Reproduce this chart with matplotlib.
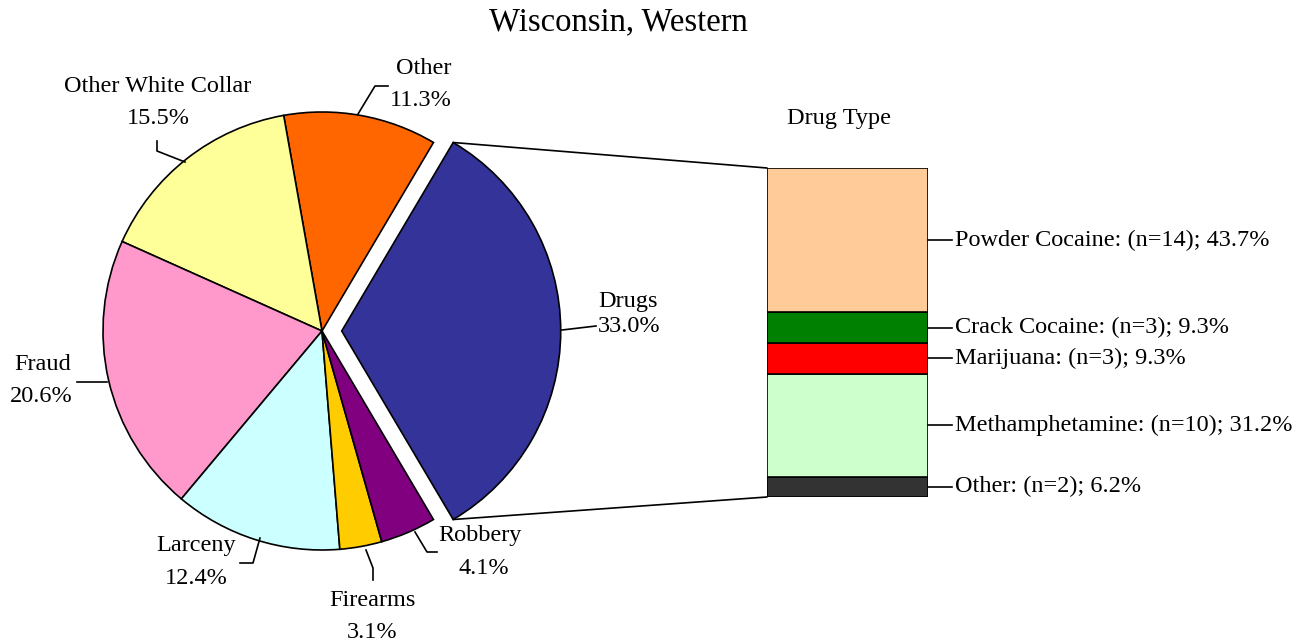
import numpy as np
import matplotlib
matplotlib.use("Agg")
import matplotlib.pyplot as plt
from matplotlib.patches import ConnectionPatch

plt.rcParams['font.family'] = ['Liberation Serif', 'DejaVu Serif']

W, H = 1313, 643

# pie data (counter-clockwise from the exploded slice)
offense = ['Drugs', 'Other', 'Other White Collar', 'Fraud', 'Larceny', 'Firearms', 'Robbery']
offense_pct = [33.0, 11.3, 15.5, 20.6, 12.4, 3.1, 4.1]
offense_colors = ['#333399', '#FF6600', '#FFFF99', '#FF99CC', '#CCFFFF', '#FFCC00', '#800080']

# drug breakdown (bottom to top)
drug_types = ['Other', 'Methamphetamine', 'Marijuana', 'Crack Cocaine', 'Powder Cocaine']
drug_n = [2, 10, 3, 3, 14]
drug_pct = [6.2, 31.2, 9.3, 9.3, 43.7]
drug_colors = ['#333333', '#CCFFCC', '#FF0000', '#008000', '#FFCC99']

FS = 17.5
LW = 1.2

fig = plt.figure(figsize=(W / 100, H / 100), dpi=100)

# pie centre / radius in pixels
cx, cy, r = 322, 331, 219
ax = fig.add_axes([(cx - 1.1 * r) / W, (H - cy - 1.1 * r) / H, 2.2 * r / W, 2.2 * r / H])
start = -offense_pct[0] / 100 * 360 / 2
wedges, _ = ax.pie(offense_pct, colors=offense_colors, startangle=start, counterclock=True,
                   explode=[0.09, 0, 0, 0, 0, 0, 0],
                   wedgeprops=dict(edgecolor='black', linewidth=LW))
ax.set_aspect('auto')
ax.set_xlim(-1.1, 1.1)
ax.set_ylim(-1.1, 1.1)
ax.axis('off')


def P(px, py):
    # pixel -> pie data coords
    return (px - cx) / r, (cy - py) / r


def leader(pts):
    xs, ys = zip(*[P(*p) for p in pts])
    ax.plot(xs, ys, color='black', lw=LW, clip_on=False)


def label(i, px, py, gap=32, ha='center', dx=0):
    ax.text(*P(px, py), offense[i], ha=ha, va='center', fontsize=FS)
    ax.text(*P(px + dx, py + gap), f'{offense_pct[i]:.1f}%', ha=ha, va='center', fontsize=FS)


# Drugs
leader([(562, 330), (596, 326)])
label(0, 598, 301, gap=26, ha='left')
# Other
leader([(358, 114), (375, 86), (388, 86)])
label(1, 424, 68, dx=-3)
# Other White Collar
leader([(185, 162), (157, 151), (157, 141)])
label(2, 158, 86)
# Fraud
leader([(77, 382), (107, 382)])
label(3, 43, 365, dx=-2)
# Larceny
leader([(260, 538), (253, 563), (240, 563)])
label(4, 196, 546)
# Firearms
leader([(366, 550), (373, 568), (373, 580)])
label(5, 372, 600)
# Robbery
leader([(415, 532), (427, 552), (437, 552)])
label(6, 480, 536, dx=4)

# bar of drug types
bx0, bx1, by0, by1 = 767, 928, 168, 497
bax = fig.add_axes([bx0 / W, (H - by1) / H, (bx1 - bx0) / W, (by1 - by0) / H])
bottom = 0
for name, n, p, c in zip(drug_types, drug_n, drug_pct, drug_colors):
    bax.bar(0, p, bottom=bottom, width=1, color=c, edgecolor='black', linewidth=LW)
    mid = bottom + p / 2
    bax.plot([0.5, 0.65], [mid, mid], color='black', lw=LW, clip_on=False)
    bax.text(0.665, mid, f'{name}: (n={n}); {p:.1f}%', ha='left', va='center', fontsize=FS)
    bottom += p
bax.set_xlim(-0.5, 0.5)
bax.set_ylim(0, bottom)
bax.axis('off')
bax.text(0.45, 1.15, 'Drug Type', transform=bax.transAxes, ha='center', va='center', fontsize=FS)

# connectors from exploded wedge to bar
w = wedges[0]
for ang, ybar in [(w.theta2, bottom), (w.theta1, 0)]:
    x = w.center[0] + w.r * np.cos(np.radians(ang))
    y = w.center[1] + w.r * np.sin(np.radians(ang))
    con = ConnectionPatch(xyA=(x, y), coordsA=ax.transData, xyB=(-0.5, ybar), coordsB=bax.transData,
                          color='black', lw=LW)
    fig.add_artist(con)

fig.text(618 / W, 1 - 22 / H, 'Wisconsin, Western', ha='center', va='center', fontsize=23.5)

fig.savefig('out.png', dpi=100, facecolor='white')
